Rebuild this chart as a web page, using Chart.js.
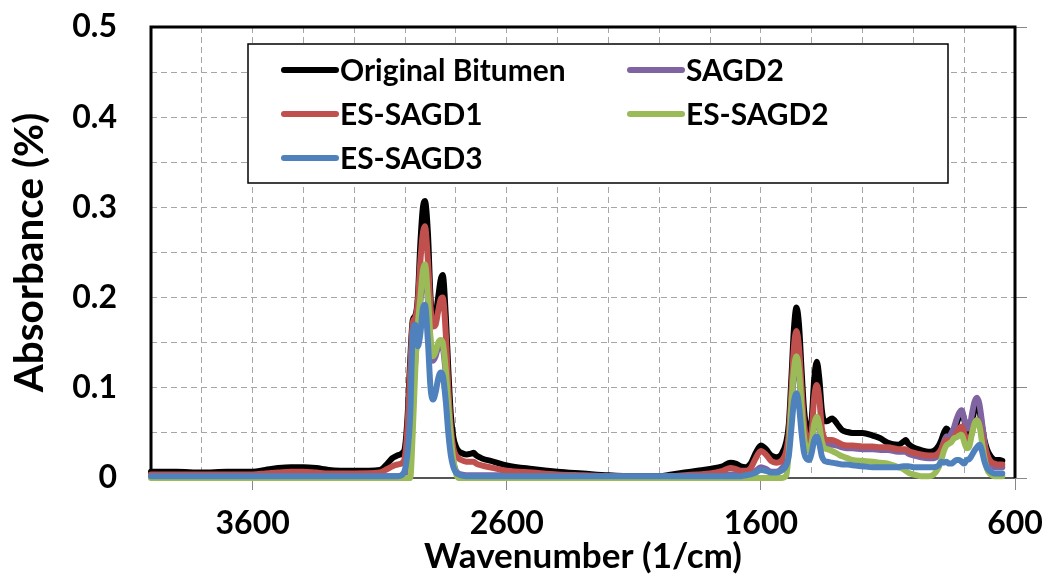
<!DOCTYPE html>
<html><head><meta charset="utf-8">
<script src="https://cdn.jsdelivr.net/npm/chart.js@4.4.0/dist/chart.umd.min.js"></script>
<style>html,body{margin:0;padding:0;background:#fff;}#wrap{width:1047px;height:578px;}</style>
</head><body><div id="wrap"><canvas id="c" width="1047" height="578"></canvas></div>
<script>
// Wavenumber (1/cm), shared by all series
const wavenumbers = [
  4000,3900,3800,3700,3600, 3550,3500,3450,3400,3350, 3300,3200,3100,3070,3050,
  3030,3010,3000,2990,2980, 2970,2960,2950,2940,2930, 2922,2910,2900,2890,2880,
  2870,2860,2852,2840,2830, 2820,2810,2800,2790,2780, 2760,2740,2730,2720,2700,
  2650,2600,2500,2400,2300, 2200,2100,2000,1950,1900, 1850,1800,1750,1720,1700,
  1680,1660,1640,1620,1600, 1580,1560,1540,1520,1500, 1490,1480,1470,1460,1450,
  1440,1430,1420,1410,1400, 1390,1380,1370,1360,1350, 1340,1320,1300,1280,1260,
  1240,1200,1160,1130,1100, 1060,1040,1030,1020,1000, 970,940,920,900,890,
  880,870,860,850,840, 830,820,810,800,790, 780,770,760,750,740,
  730,720,710,700,690, 680,670,660,650
];
const originalBitumen = [
  0.007,0.007,0.006,0.007,0.007, 0.009,0.011,0.012,0.012,0.011, 0.009,0.008,0.009,0.016,0.022,
  0.025,0.028,0.035,0.07,0.13, 0.175,0.18,0.2,0.26,0.3, 0.307,0.27,0.2,0.17,0.18,
  0.2,0.22,0.225,0.18,0.12, 0.07,0.045,0.035,0.03,0.028, 0.026,0.027,0.028,0.025,0.022,
  0.018,0.014,0.01,0.007,0.005, 0.003,0.002,0.002,0.004,0.006, 0.008,0.01,0.013,0.017,0.016,
  0.013,0.012,0.016,0.028,0.036, 0.032,0.025,0.023,0.026,0.04, 0.06,0.11,0.165,0.189,0.17,
  0.12,0.075,0.055,0.05,0.065, 0.11,0.129,0.11,0.075,0.063, 0.063,0.066,0.06,0.053,0.051,
  0.05,0.05,0.047,0.044,0.039, 0.037,0.04,0.042,0.038,0.034, 0.031,0.029,0.03,0.036,0.042,
  0.05,0.055,0.052,0.048,0.05, 0.06,0.068,0.072,0.065,0.052, 0.05,0.06,0.075,0.082,0.075,
  0.058,0.042,0.032,0.026,0.022, 0.02,0.02,0.02,0.019
];
const sagd2 = [
  0.002,0.002,0.002,0.002,0.002, 0.002,0.002,0.002,0.002,0.002, 0.002,0.002,0.002,0.002,0.002,
  0.002,0.003,0.005,0.01,0.04, 0.09,0.13,0.165,0.195,0.225, 0.232,0.195,0.15,0.13,0.135,
  0.145,0.148,0.145,0.115,0.075, 0.04,0.018,0.008,0.005,0.004, 0.003,0.003,0.003,0.003,0.003,
  0.003,0.003,0.002,0.002,0.002, 0.002,0.002,0.002,0.002,0.002, 0.002,0.002,0.003,0.004,0.004,
  0.003,0.003,0.004,0.008,0.012, 0.01,0.007,0.007,0.01,0.02, 0.04,0.075,0.115,0.13,0.115,
  0.078,0.045,0.035,0.034,0.04, 0.058,0.065,0.056,0.04,0.036, 0.036,0.037,0.036,0.034,0.033,
  0.033,0.032,0.032,0.031,0.031, 0.029,0.029,0.029,0.027,0.025, 0.023,0.022,0.022,0.026,0.032,
  0.04,0.046,0.045,0.05,0.056, 0.065,0.072,0.075,0.066,0.055, 0.055,0.07,0.084,0.089,0.082,
  0.062,0.04,0.026,0.018,0.014, 0.012,0.012,0.012,0.012
];
const esSagd1 = [
  0.004,0.004,0.004,0.004,0.004, 0.005,0.006,0.007,0.007,0.006, 0.005,0.005,0.006,0.01,0.013,
  0.015,0.017,0.025,0.06,0.12, 0.172,0.178,0.195,0.24,0.272, 0.279,0.24,0.19,0.168,0.17,
  0.185,0.198,0.2,0.16,0.1, 0.055,0.033,0.025,0.022,0.02, 0.018,0.018,0.018,0.016,0.014,
  0.011,0.008,0.006,0.004,0.003, 0.002,0.001,0.001,0.002,0.003, 0.004,0.005,0.008,0.011,0.01,
  0.008,0.008,0.011,0.022,0.03, 0.026,0.019,0.017,0.019,0.03, 0.05,0.095,0.145,0.163,0.145,
  0.1,0.06,0.043,0.04,0.052, 0.09,0.103,0.088,0.055,0.044, 0.042,0.042,0.04,0.037,0.036,
  0.036,0.035,0.035,0.034,0.034, 0.032,0.032,0.032,0.03,0.028, 0.026,0.025,0.025,0.028,0.032,
  0.038,0.042,0.04,0.042,0.045, 0.05,0.055,0.057,0.05,0.042, 0.042,0.05,0.06,0.064,0.06,
  0.048,0.035,0.026,0.02,0.017, 0.016,0.015,0.015,0.015
];
const esSagd2 = [
  0,0,0,0,0, 0,0,0,0,0, 0,0,0,0,0,
  0,0,0,0,0, 0.05,0.12,0.17,0.2,0.23, 0.237,0.2,0.155,0.135,0.14,
  0.15,0.153,0.15,0.12,0.08, 0.045,0.02,0.005,0,0, 0,0,0,0,0,
  0,0,0,0,0, 0,0,0,0,0, 0,0,0,0,0,
  0,0,0,0,0, 0,0,0,0,0.003, 0.03,0.08,0.12,0.135,0.12,
  0.08,0.045,0.032,0.03,0.04, 0.06,0.068,0.058,0.04,0.033, 0.032,0.03,0.027,0.024,0.022,
  0.02,0.019,0.018,0.017,0.016, 0.012,0.01,0.008,0.006,0.004, 0.002,0.002,0.004,0.012,0.02,
  0.03,0.036,0.038,0.04,0.044, 0.045,0.047,0.048,0.04,0.033, 0.035,0.048,0.06,0.064,0.058,
  0.04,0.022,0.01,0.005,0.003, 0.002,0.002,0.002,0.002
];
const esSagd3 = [
  0.002,0.002,0.002,0.002,0.002, 0.002,0.002,0.002,0.002,0.002, 0.002,0.002,0.002,0.002,0.002,
  0.002,0.004,0.01,0.03,0.07, 0.16,0.17,0.146,0.16,0.188, 0.192,0.15,0.1,0.087,0.095,
  0.11,0.117,0.114,0.085,0.05, 0.025,0.012,0.006,0.004,0.003, 0.002,0.002,0.002,0.002,0.002,
  0.002,0.002,0.002,0.002,0.002, 0.002,0.002,0.002,0.002,0.002, 0.002,0.002,0.002,0.002,0.002,
  0.002,0.003,0.004,0.006,0.009, 0.008,0.006,0.006,0.008,0.014, 0.025,0.055,0.085,0.094,0.08,
  0.05,0.028,0.021,0.02,0.028, 0.042,0.046,0.038,0.024,0.019, 0.018,0.017,0.016,0.015,0.015,
  0.014,0.013,0.012,0.012,0.012, 0.012,0.013,0.013,0.013,0.012, 0.012,0.012,0.012,0.014,0.018,
  0.017,0.018,0.016,0.016,0.018, 0.02,0.02,0.018,0.016,0.02, 0.021,0.025,0.03,0.034,0.037,
  0.03,0.018,0.011,0.008,0.006, 0.005,0.005,0.005,0.005
];
const seriesNames = ['Original Bitumen','SAGD2','ES-SAGD1','ES-SAGD2','ES-SAGD3'];
const seriesValues = [originalBitumen, sagd2, esSagd1, esSagd2, esSagd3];
const seriesColors = ['#000000','#8064A2','#C0504D','#9BBB59','#4F81BD'];
const xTickLabels = [3600, 2600, 1600, 600];
const yTickLabels = [0, 0.1, 0.2, 0.3, 0.4, 0.5];
const xTitle = 'Wavenumber (1/cm)';
const yTitle = 'Absorbance (%)';

const FONT = 'Lato';
// font sizes chosen so text extents match the reference
function fitSize(text, targetWidth) {
  const ctx = document.createElement('canvas').getContext('2d');
  ctx.font = `bold 100px ${FONT}`;
  return Math.round(100 * targetWidth / ctx.measureText(text).width * 10) / 10;
}
const TICK_PX = 32;
const XTITLE_PX = fitSize(xTitle, 318);
const YTITLE_PX = fitSize(yTitle, 280);
const LEGEND_PX = fitSize('Original Bitumen', 226);
const isYLabel = v => yTickLabels.some(t => Math.abs(t - v) < 1e-6);

const datasets = seriesNames.map((name, i) => ({
  label: name,
  data: wavenumbers.map((w, j) => ({x: w, y: seriesValues[i][j]})),
  borderColor: seriesColors[i],
  backgroundColor: seriesColors[i],
  borderWidth: 6,
  pointRadius: 0,
  fill: false,
  cubicInterpolationMode: 'monotone',
  borderJoinStyle: 'round',
  borderCapStyle: 'round',
  clip: false,
  order: seriesNames.length - i
}));

const framePlugin = {
  id: 'frame',
  beforeDatasetsDraw(chart) {
    const {ctx, chartArea: a} = chart;
    ctx.save();
    ctx.strokeStyle = '#555'; ctx.lineWidth = 2;
    ctx.beginPath(); ctx.moveTo(a.left, a.bottom); ctx.lineTo(a.right, a.bottom); ctx.stroke();
    ctx.strokeStyle = '#000'; ctx.lineWidth = 3;
    ctx.beginPath(); ctx.moveTo(a.left, a.bottom); ctx.lineTo(a.left, a.top); ctx.lineTo(a.right, a.top); ctx.lineTo(a.right, a.bottom); ctx.stroke();
    ctx.restore();
  }
};

const legendPlugin = {
  id: 'boxLegend',
  afterDatasetsDraw(chart) {
    const {ctx, chartArea: a} = chart;
    const bx = a.left + 97, by = a.top + 17, bw = 700, bh = 139;
    ctx.save();
    ctx.fillStyle = '#fff';
    ctx.fillRect(bx, by, bw, bh);
    ctx.strokeStyle = '#000'; ctx.lineWidth = 1.5;
    ctx.strokeRect(bx, by, bw, bh);
    ctx.font = `bold ${LEGEND_PX}px ${FONT}`;
    ctx.textBaseline = 'middle';
    chart.data.datasets.forEach((ds, i) => {
      const col = i % 2, row = Math.floor(i / 2);
      const lx = bx + (col === 0 ? 36 : 382);
      const ly = by + 26 + row * 44;
      ctx.strokeStyle = ds.borderColor; ctx.lineWidth = 6; ctx.lineCap = 'round';
      ctx.beginPath(); ctx.moveTo(lx, ly); ctx.lineTo(lx + 52, ly); ctx.stroke();
      ctx.fillStyle = '#000';
      ctx.fillText(ds.label, lx + 56, ly + 1);
    });
    ctx.restore();
  }
};

new Chart(document.getElementById('c'), {
  type: 'line',
  data: {datasets},
  options: {
    responsive: false, animation: false, devicePixelRatio: 1,
    layout: {padding: {top: 27, left: 0, right: 0, bottom: 0}},
    plugins: {legend: {display: false}, tooltip: {enabled: false}, title: {display: false}},
    scales: {
      x: {
        type: 'linear', reverse: true, min: 600, max: 4000,
        ticks: {
          stepSize: 200, autoSkip: false, maxRotation: 0, padding: 14,
          color: '#000', font: {family: FONT, size: TICK_PX, weight: 'bold'},
          callback: v => xTickLabels.includes(v) ? String(v) : ''
        },
        grid: {
          color: '#a6a6a6', lineWidth: 1, tickLength: 12,
          tickColor: c => (c.tick && xTickLabels.includes(c.tick.value)) ? '#888' : 'rgba(0,0,0,0)'
        },
        border: {display: false, dash: [6, 4]},
        title: {display: true, text: xTitle, color: '#000',
          font: {family: FONT, size: XTITLE_PX, weight: 'bold'}, padding: {top: 0, bottom: 0}},
        afterFit: s => { s.height = 100; s.paddingLeft = 0; s.paddingRight = 0; }
      },
      y: {
        type: 'linear', position: 'left', min: 0, max: 0.5,
        ticks: {
          stepSize: 0.05, autoSkip: false, padding: 34,
          color: '#000', font: {family: FONT, size: TICK_PX, weight: 'bold'},
          callback: v => isYLabel(v) ? String(Math.round(v * 10) / 10) : ''
        },
        grid: {color: '#a6a6a6', lineWidth: 1, drawTicks: false},
        border: {display: false, dash: [6, 4]},
        title: {display: true, text: yTitle, color: '#000',
          font: {family: FONT, size: YTITLE_PX, weight: 'bold'}, padding: {top: 6, bottom: 0}},
        afterFit: s => { s.width = 151; s.paddingTop = 0; s.paddingBottom = 0; }
      },
      y2: {
        type: 'linear', position: 'right', min: 0, max: 0.5,
        ticks: {stepSize: 0.1, display: false},
        grid: {drawOnChartArea: false, tickLength: 12, tickColor: '#888'},
        border: {display: false},
        afterFit: s => { s.width = 32; s.paddingTop = 0; s.paddingBottom = 0; }
      }
    }
  },
  plugins: [framePlugin, legendPlugin]
});
</script>
</body></html>
